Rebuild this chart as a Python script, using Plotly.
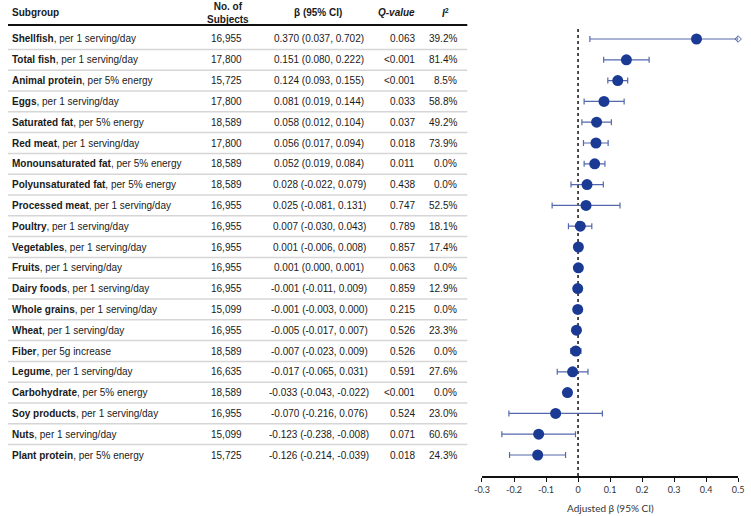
import plotly.graph_objects as go

# ---------------- data ----------------
foods = ["Shellfish", "Total fish", "Animal protein", "Eggs", "Saturated fat", "Red meat",
         "Monounsaturated fat", "Polyunsaturated fat", "Processed meat", "Poultry",
         "Vegetables", "Fruits", "Dairy foods", "Whole grains", "Wheat", "Fiber",
         "Legume", "Carbohydrate", "Soy products", "Nuts", "Plant protein"]
units = ["per 1 serving/day", "per 1 serving/day", "per 5% energy", "per 1 serving/day",
         "per 5% energy", "per 1 serving/day", "per 5% energy", "per 5% energy",
         "per 1 serving/day", "per 1 serving/day", "per 1 serving/day", "per 1 serving/day",
         "per 1 serving/day", "per 1 serving/day", "per 1 serving/day", "per 5g increase",
         "per 1 serving/day", "per 5% energy", "per 1 serving/day", "per 1 serving/day",
         "per 5% energy"]
subjects = [16955, 17800, 15725, 17800, 18589, 17800, 18589, 18589, 16955, 16955,
            16955, 16955, 16955, 15099, 16955, 18589, 16635, 18589, 16955, 15099, 15725]
beta = [0.370, 0.151, 0.124, 0.081, 0.058, 0.056, 0.052, 0.028, 0.025, 0.007,
        0.001, 0.001, -0.001, -0.001, -0.005, -0.007, -0.017, -0.033, -0.070, -0.123, -0.126]
ci_low = [0.037, 0.080, 0.093, 0.019, 0.012, 0.017, 0.019, -0.022, -0.081, -0.030,
          -0.006, 0.000, -0.011, -0.003, -0.017, -0.023, -0.065, -0.043, -0.216, -0.238, -0.214]
ci_high = [0.702, 0.222, 0.155, 0.144, 0.104, 0.094, 0.084, 0.079, 0.131, 0.043,
           0.008, 0.001, 0.009, 0.000, 0.007, 0.009, 0.031, -0.022, 0.076, -0.008, -0.039]
q_values = ["0.063", "<0.001", "<0.001", "0.033", "0.037", "0.018", "0.011", "0.438", "0.747",
            "0.789", "0.857", "0.063", "0.859", "0.215", "0.526", "0.526", "0.591", "<0.001",
            "0.524", "0.071", "0.018"]
i_squared = ["39.2%", "81.4%", "8.5%", "58.8%", "49.2%", "73.9%", "0.0%", "0.0%", "52.5%",
             "18.1%", "17.4%", "0.0%", "12.9%", "0.0%", "23.3%", "0.0%", "27.6%", "0.0%",
             "23.0%", "60.6%", "24.3%"]
x_ticks = [-0.3, -0.2, -0.1, 0, 0.1, 0.2, 0.3, 0.4, 0.5]
x_tick_labels = ["-0.3", "-0.2", "-0.1", "0", "0.1", "0.2", "0.3", "0.4", "0.5"]

# ---------------- layout constants ----------------
W, H = 751, 516
X_MIN, X_MAX = -0.3, 0.5
row0_px, pitch = 39, 20.8
top_px, axis_px = 27, 476
n = len(foods)
rows = list(range(n))
y_top = (top_px - row0_px) / pitch
y_bot = (axis_px - row0_px) / pitch


def px_x(p):
    return p / W


def px_y(p):
    return 1 - p / H


hi_clip = [min(h, X_MAX) for h in ci_high]
err_plus = [h - b for h, b in zip(hi_clip, beta)]
err_minus = [b - l for b, l in zip(beta, ci_low)]

point_color = "#1b3a94"
err_color = "#5468ad"
font_fam = "Liberation Sans, Arial, sans-serif"
txt_color = "#1a1a1a"
FS = 10

fig = go.Figure()
fig.add_trace(go.Scatter(
    x=beta, y=rows, mode="markers",
    marker=dict(color=point_color, size=11),
    error_x=dict(type="data", symmetric=False, array=err_plus, arrayminus=err_minus,
                 color=err_color, thickness=1.2, width=3),
    hoverinfo="skip", showlegend=False, cliponaxis=False,
))
# marker for the truncated CI
trunc_x = [X_MAX for h in ci_high if h > X_MAX]
trunc_y = [i for i, h in enumerate(ci_high) if h > X_MAX]
fig.add_trace(go.Scatter(
    x=trunc_x, y=trunc_y, mode="markers",
    marker=dict(symbol="diamond-open", size=5, color=err_color, line=dict(width=1)),
    hoverinfo="skip", showlegend=False, cliponaxis=False,
))

annotations = []
hdr_y = px_y(12.5)


def hdr(text, x, anchor):
    annotations.append(dict(text=text, x=x, y=hdr_y, xref="paper", yref="paper",
                            xanchor=anchor, yanchor="middle", showarrow=False,
                            font=dict(family=font_fam, size=FS, color=txt_color)))


hdr("<b>Subgroup</b>", px_x(2), "left")
hdr("<b>No. of<br>Subjects</b>", px_x(224), "center")
hdr("<b>β (95% CI)</b>", px_x(316), "center")
hdr("<b><i>Q-value</i></b>", px_x(417), "right")
hdr("<b><i>I</i><sup>2</sup></b>", px_x(446), "center")

for i in rows:
    cells = [
        (f"<b>{foods[i]}</b>, {units[i]}", px_x(2), "left"),
        (f"{subjects[i]:,}", px_x(223), "center"),
        (f"{beta[i]:.3f} ({ci_low[i]:.3f}, {ci_high[i]:.3f})", px_x(317), "center"),
        (q_values[i], px_x(417), "right"),
        (i_squared[i], px_x(460), "right"),
    ]
    for text, x, anchor in cells:
        annotations.append(dict(text=text, x=x, y=i, xref="paper", yref="y",
                                xanchor=anchor, yanchor="middle", showarrow=False,
                                font=dict(family=font_fam, size=FS, color=txt_color)))

annotations.append(dict(text="Adjusted β (95% CI)", x=0.1, y=px_y(508), xref="x", yref="paper",
                        xanchor="center", yanchor="middle", showarrow=False,
                        font=dict(family="Lato, Carlito, sans-serif", size=10, color="#333333")))

shapes = []
shapes.append(dict(type="line", xref="paper", yref="paper", x0=0, x1=px_x(468),
                   y0=px_y(25), y1=px_y(25), line=dict(color="#111111", width=2)))
for i in range(n - 1):
    shapes.append(dict(type="line", xref="paper", yref="y", x0=0, x1=px_x(468),
                       y0=i + 0.5, y1=i + 0.5, line=dict(color="#d6d6d6", width=1.5)))
shapes.append(dict(type="line", xref="x", yref="y domain", x0=0, x1=0, y0=0, y1=1,
                   line=dict(color="#111111", width=1.5, dash="dot"), layer="below"))

fig.update_layout(
    width=W, height=H, margin=dict(l=0, r=0, t=0, b=0),
    paper_bgcolor="white", plot_bgcolor="white",
    xaxis=dict(domain=[px_x(483), px_x(744)], range=[X_MIN, X_MAX],
               tickvals=x_ticks, ticktext=x_tick_labels, showgrid=False, zeroline=False,
               showline=True, linecolor="#111111", linewidth=1.5,
               ticks="outside", ticklen=4, tickcolor="#111111", tickwidth=1.2,
               tickfont=dict(family="Lato, Carlito, sans-serif", size=9, color="#333333")),
    yaxis=dict(domain=[px_y(axis_px), px_y(top_px)], range=[y_bot, y_top],
               showgrid=False, zeroline=False, showticklabels=False, showline=False),
    annotations=annotations, shapes=shapes,
)

fig.write_html("out.html", config={"displayModeBar": False},
               post_script="document.body.style.margin='0';")
